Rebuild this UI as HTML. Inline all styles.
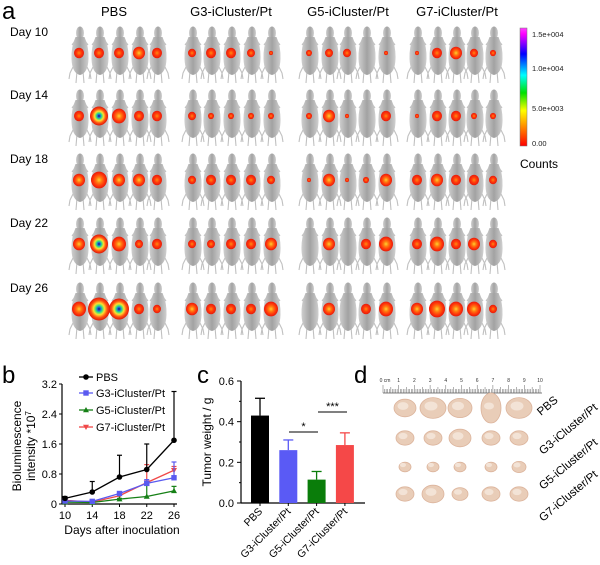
<!DOCTYPE html>
<html><head><meta charset="utf-8">
<style>
body{margin:0;background:#fff;}
svg{display:block;font-family:"Liberation Sans",Arial,sans-serif;}
</style></head>
<body>
<svg id="fig" width="600" height="565" viewBox="0 0 600 565" xmlns="http://www.w3.org/2000/svg">
<defs>
<linearGradient id="mouseG" x1="0" x2="1">
<stop offset="0" stop-color="#cfcfcf"/><stop offset="0.5" stop-color="#a2a2a2"/><stop offset="1" stop-color="#cfcfcf"/>
</linearGradient>
<radialGradient id="spotS"><stop offset="0" stop-color="#ff8a10"/><stop offset="0.5" stop-color="#ff3a0a"/><stop offset="1" stop-color="#e81a0a"/></radialGradient>
<radialGradient id="spotM"><stop offset="0" stop-color="#ffd030"/><stop offset="0.35" stop-color="#ff7a10"/><stop offset="0.7" stop-color="#ff3a0a"/><stop offset="1" stop-color="#e81a0a"/></radialGradient>
<radialGradient id="spotL"><stop offset="0" stop-color="#101060"/><stop offset="0.15" stop-color="#2060e0"/><stop offset="0.3" stop-color="#30e080"/><stop offset="0.5" stop-color="#ffe030"/><stop offset="0.75" stop-color="#ff5010"/><stop offset="1" stop-color="#e01808"/></radialGradient>
<linearGradient id="cbar" x1="0" y1="1" x2="0" y2="0">
<stop offset="0" stop-color="#ff0000"/><stop offset="0.15" stop-color="#ff8000"/><stop offset="0.3" stop-color="#ffff00"/><stop offset="0.45" stop-color="#00e000"/><stop offset="0.6" stop-color="#00ffff"/><stop offset="0.78" stop-color="#0000ff"/><stop offset="0.95" stop-color="#ff00ff"/><stop offset="1" stop-color="#ff40ff"/>
</linearGradient>
</defs>

<text x="2" y="19" font-size="24">a</text>
<text x="114" y="16" font-size="13" text-anchor="middle">PBS</text>
<text x="231" y="16" font-size="13" text-anchor="middle">G3-iCluster/Pt</text>
<text x="348" y="16" font-size="13" text-anchor="middle">G5-iCluster/Pt</text>
<text x="457" y="16" font-size="13" text-anchor="middle">G7-iCluster/Pt</text>
<g id="mice"></g>

<rect x="520" y="28" width="7" height="118" fill="url(#cbar)" stroke="#777" stroke-width="0.5"/>
<g font-size="7.5" fill="#222">
<text x="532" y="37">1.5e+004</text>
<text x="532" y="71">1.0e+004</text>
<text x="532" y="111">5.0e+003</text>
<text x="532" y="146">0.00</text>
</g>
<text x="520" y="168" font-size="12">Counts</text>

<text x="2" y="383" font-size="24">b</text>
<g id="chartB"></g>

<text x="197" y="383" font-size="24">c</text>
<g id="chartC"></g>

<text x="354" y="383" font-size="24">d</text>
<g id="photo"></g>
</svg>

<script>
const NS="http://www.w3.org/2000/svg";
function mk(parent,tag,attrs,text){const e=document.createElementNS(NS,tag);for(const k in attrs)e.setAttribute(k,attrs[k]);if(text!==undefined)e.textContent=text;parent.appendChild(e);return e;}

/* ---------- panel a ---------- */
const dayLabels=["Day 10","Day 14","Day 18","Day 22","Day 26"];
const rowTops=[27,90,154,218,283];
const groupCenters=[[80,100,120,140,158],[193,212,232,252,272],[310,330,348,367,387],[418,438,457,475,494]];
const spotPBS=[[5,5,5,6,5],[5,9,7,5,5],[6,8,6,6,5],[6,9,7,4,5],[7,11,10,5,4]];
const spotG3=[[4,5,5,4,2],[4,3,3,3,3],[4,5,5,5,4],[4,4,5,5,6],[6,5,5,5,7]];
const spotG5=[[3,4,4,0,2],[3,6,2,0,5],[2,6,2,3,6],[0,6,0,5,7],[0,6,0,5,7]];
const spotG7=[[2,5,6,4,3],[2,5,5,3,3],[5,6,5,5,4],[5,7,5,6,4],[6,8,7,7,4]];
const spots=[spotPBS,spotG3,spotG5,spotG7];
const mice=document.getElementById('mice');
dayLabels.forEach((d,i)=>{
  const t=mk(mice,'text',{x:10,y:rowTops[i]+9,'font-size':12},d);
  
  
});
groupCenters.forEach((cs,g)=>{
  rowTops.forEach((ty,r)=>{
    cs.forEach((cx,m)=>{
      const grp=mk(mice,'g',{});
      
      
      mk(grp,'path',{d:`M${cx-6} ${ty+38} l-4 8 l-1 6 M${cx+6} ${ty+38} l4 8 l1 6 M${cx-3} ${ty+44} l-1 12 M${cx+3} ${ty+44} l1 12 M${cx-5} ${ty+14} l-3 4 M${cx+5} ${ty+14} l3 4`,stroke:'#c0c0c0','stroke-width':1.1,fill:'none'});
      mk(grp,'ellipse',{cx:cx,cy:ty+6,rx:4,ry:6.5,fill:'url(#mouseG)'});
      mk(grp,'path',{d:`M${cx-4.5} ${ty+10} Q${cx-9} ${ty+20} ${cx-8.5} ${ty+32} Q${cx-8} ${ty+46} ${cx} ${ty+48} Q${cx+8} ${ty+46} ${cx+8.5} ${ty+32} Q${cx+9} ${ty+20} ${cx+4.5} ${ty+10} Z`,fill:'url(#mouseG)'});
      const s=spots[g][r][m];
      if(s>0){
        const fill=s>=9?'url(#spotL)':(s>=6?'url(#spotM)':'url(#spotS)');
        const sp=mk(grp,'ellipse',{cx:cx-1,cy:ty+26,rx:s,ry:s*1.05,fill:fill});
        
        
      }
    });
  });
});

/* ---------- panel b ---------- */
const days=[10,14,18,22,26];
const pbsMean=[0.15,0.32,0.72,0.92,1.7];
const pbsErr=[0.05,0.28,0.58,0.68,1.3];
const g3Mean=[0.08,0.07,0.28,0.55,0.7];
const g3Err=[0.02,0.02,0.04,0.1,0.42];
const g5Mean=[0.05,0.04,0.13,0.2,0.35];
const g5Err=[0.01,0.01,0.02,0.3,0.12];
const g7Mean=[0.1,0.05,0.22,0.57,0.9];
const g7Err=[0.02,0.02,0.04,0.48,0.1];
const bTicks=[0,0.8,1.6,2.4,3.2];
const bTickLabels=["0","0.8","1.6","2.4","3.2"];
const bSeriesNames=["PBS","G3-iCluster/Pt","G5-iCluster/Pt","G7-iCluster/Pt"];
const B=document.getElementById('chartB');
const bx=d=>65+(d-10)*(174-65)/16;
const by=v=>504-v*37.5;
mk(B,'line',{x1:62,y1:384,x2:62,y2:504,stroke:'#000','stroke-width':1.2});
mk(B,'line',{x1:62,y1:504,x2:177,y2:504,stroke:'#000','stroke-width':1.2});
bTicks.forEach((v,i)=>{
  mk(B,'line',{x1:59,y1:by(v),x2:62,y2:by(v),stroke:'#000'});
  const t=mk(B,'text',{x:57,y:by(v)+4,'font-size':11,'text-anchor':'end'},bTickLabels[i]);
  
  
});
days.forEach(d=>{
  mk(B,'line',{x1:bx(d),y1:504,x2:bx(d),y2:507,stroke:'#000'});
  const t=mk(B,'text',{x:bx(d),y:519,'font-size':11,'text-anchor':'middle'},String(d));
  
  
});
const xt=mk(B,'text',{x:122,y:534,'font-size':12,'text-anchor':'middle'},'Days after inoculation');


const yt=mk(B,'text',{transform:'translate(21,446) rotate(-90)','font-size':12,'text-anchor':'middle'},'Bioluminescence');


const yt2=mk(B,'text',{transform:'translate(35,446) rotate(-90)','font-size':12,'text-anchor':'middle'});


mk(yt2,'tspan',{},'intensity *10');
mk(yt2,'tspan',{dy:-4,'font-size':8},'7');
const series=[[pbsMean,pbsErr,'#000','circle'],[g3Mean,g3Err,'#5a5af0','square'],[g5Mean,g5Err,'#168016','tri'],[g7Mean,g7Err,'#f04848','tridown']];
function marker(p,x,y,shape,c){
  if(shape==='circle')return mk(p,'circle',{cx:x,cy:y,r:2.8,fill:c});
  if(shape==='square')return mk(p,'rect',{x:x-2.7,y:y-2.7,width:5.4,height:5.4,fill:c});
  if(shape==='tri')return mk(p,'path',{d:`M${x} ${y-3} L${x+3} ${y+2.2} L${x-3} ${y+2.2}Z`,fill:c});
  return mk(p,'path',{d:`M${x} ${y+3} L${x+3} ${y-2.2} L${x-3} ${y-2.2}Z`,fill:c});
}
[...series].reverse().forEach(([m,e,c,sh])=>{
  const g=mk(B,'g',{});
  
  
  days.forEach((d,i)=>{
    mk(g,'line',{x1:bx(d),y1:by(m[i]),x2:bx(d),y2:by(m[i]+e[i]),stroke:c,'stroke-width':1.2});
    mk(g,'line',{x1:bx(d)-2.5,y1:by(m[i]+e[i]),x2:bx(d)+2.5,y2:by(m[i]+e[i]),stroke:c,'stroke-width':1.2});
  });
  mk(g,'polyline',{points:days.map((d,i)=>bx(d)+','+by(m[i])).join(' '),fill:'none',stroke:c,'stroke-width':1.3});
  days.forEach((d,i)=>{const mm=marker(g,bx(d),by(m[i]),sh,c);
    
    });
});
const legY=[377,393,410,427];
series.forEach(([m,e,c,sh],i)=>{
  const g=mk(B,'g',{});
  
  
  mk(g,'line',{x1:79,y1:legY[i],x2:93,y2:legY[i],stroke:c,'stroke-width':1.3});
  marker(g,86,legY[i],sh,c);
  mk(g,'text',{x:96,y:legY[i]+4,'font-size':11},bSeriesNames[i]);
});

/* ---------- panel c ---------- */
const cCats=["PBS","G3-iCluster/Pt","G5-iCluster/Pt","G7-iCluster/Pt"];
const cVals=[0.43,0.26,0.115,0.285];
const cErr=[0.085,0.05,0.04,0.06];
const cColors=["#000000","#5a5af5","#0a7d0a","#f54848"];
const cTicks=[0,0.2,0.4,0.6];
const cTickLabels=["0.0","0.2","0.4","0.6"];
const C=document.getElementById('chartC');
const cy=v=>503-v*(503-381)/0.6;
const cx=i=>260+i*28.3;
mk(C,'line',{x1:241,y1:381,x2:241,y2:503,stroke:'#000','stroke-width':1.2});
mk(C,'line',{x1:241,y1:503,x2:365,y2:503,stroke:'#000','stroke-width':1.2});
cTicks.forEach((v,i)=>{
  mk(C,'line',{x1:237,y1:cy(v),x2:241,y2:cy(v),stroke:'#000'});
  const t=mk(C,'text',{x:234,y:cy(v)+4,'font-size':11,'text-anchor':'end'},cTickLabels[i]);
  
  
});
[0.1,0.3,0.5].forEach(v=>mk(C,'line',{x1:239,y1:cy(v),x2:241,y2:cy(v),stroke:'#000'}));
const cyt=mk(C,'text',{transform:'translate(211,442) rotate(-90)','font-size':12,'text-anchor':'middle'},'Tumor weight / g');


cCats.forEach((c,i)=>{
  const x=cx(i);
  mk(C,'line',{x1:x,y1:cy(cVals[i]),x2:x,y2:cy(cVals[i]+cErr[i]),stroke:cColors[i],'stroke-width':1.3});
  mk(C,'line',{x1:x-5,y1:cy(cVals[i]+cErr[i]),x2:x+5,y2:cy(cVals[i]+cErr[i]),stroke:cColors[i],'stroke-width':1.3});
  const b=mk(C,'rect',{x:x-9,y:cy(cVals[i]),width:18,height:503-cy(cVals[i]),fill:cColors[i]});
  
  
  mk(C,'line',{x1:x,y1:503,x2:x,y2:506,stroke:'#000'});
  const t=mk(C,'text',{transform:`translate(${x+3},${512}) rotate(-45)`,'font-size':10.5,'text-anchor':'end'},c);
  
  
});
mk(C,'line',{x1:289,y1:432,x2:318,y2:432,stroke:'#000'});
const s1=mk(C,'text',{x:303.5,y:430,'font-size':11,'text-anchor':'middle'},'*');


mk(C,'line',{x1:318,y1:412,x2:347,y2:412,stroke:'#000'});
const s2=mk(C,'text',{x:332.5,y:410,'font-size':11,'text-anchor':'middle'},'***');



/* ---------- panel d ---------- */
const P=document.getElementById('photo');
const ruler=mk(P,'g',{});


mk(ruler,'line',{x1:383,y1:393,x2:542,y2:393,stroke:'#555','stroke-width':0.8});
for(let k=0;k<=100;k++){const x=383+k*1.57;mk(ruler,'line',{x1:x,y1:393,x2:x,y2:k%10===0?385:(k%5===0?387:389),stroke:'#666','stroke-width':0.5});}
for(let k=0;k<=10;k++){mk(ruler,'text',{x:383+k*15.7+(k===0?2:0),y:382,'font-size':5,'text-anchor':'middle',fill:'#333'},k===0?'0 cm':String(k));}
const tumorRows=[402,438,467,494];
const tumorX=[405,433,460,491,519];
const tumorSize=[[11,13,12,10,13],[9,9,11,9,9],[6,6,6,6,7],[9,11,8,9,9]];
tumorSize.forEach((row,r)=>row.forEach((s,i)=>{
  const t=mk(P,'ellipse',{cx:tumorX[i],cy:tumorRows[r]+(r===0?6:0),rx:s,ry:s*(r===0&&i===3?1.5:0.8),fill:'#e9cdb8',stroke:'#dcb49c','stroke-width':0.8});
  
  
  mk(P,'ellipse',{cx:tumorX[i]-2,cy:tumorRows[r]+(r===0?4:-2),rx:s*0.5,ry:s*0.35,fill:'#f3e3d6'});
}));
const dLabels=["PBS","G3-iCluster/Pt","G5-iCluster/Pt","G7-iCluster/Pt"];
const dLabY=[416,455,490,522];
dLabels.forEach((l,i)=>{
  const t=mk(P,'text',{transform:`translate(${i===0?541:543},${dLabY[i]}) rotate(-40)`,'font-size':11.5},l);
  
  
});
</script>
</body></html>
